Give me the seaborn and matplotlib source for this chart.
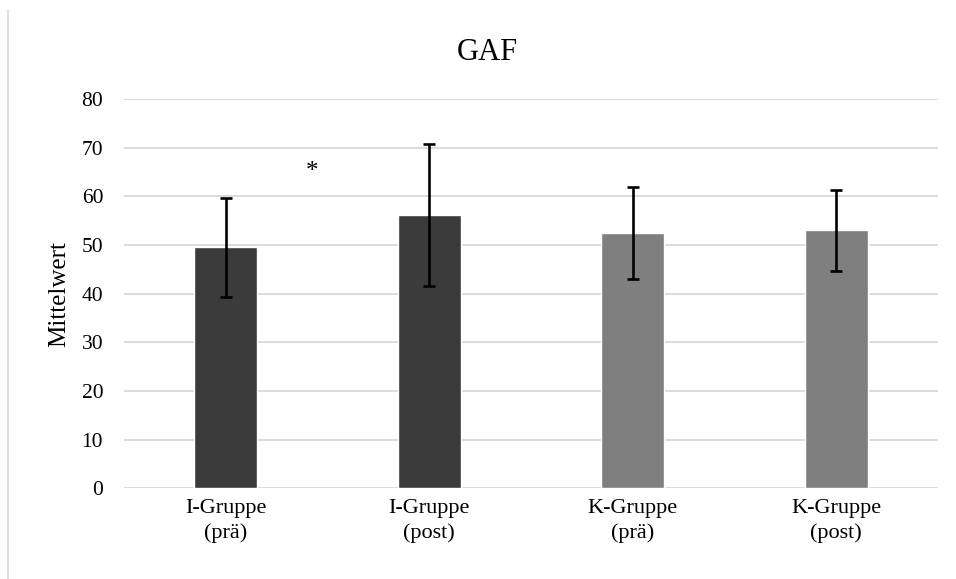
import matplotlib
matplotlib.use("Agg")
import matplotlib.pyplot as plt
import seaborn as sns
import pandas as pd
from matplotlib.lines import Line2D

# values
groups = ["I-Gruppe\n(prä)", "I-Gruppe\n(post)", "K-Gruppe\n(prä)", "K-Gruppe\n(post)"]
means = [49.5, 56.2, 52.5, 53.0]
sds = [10.1, 14.6, 9.4, 8.3]
bar_colors = ["#3b3b3b", "#3b3b3b", "#7f7f7f", "#7f7f7f"]
y_ticks = [0, 10, 20, 30, 40, 50, 60, 70, 80]


def main():
    df = pd.DataFrame({"Gruppe": groups, "Mittelwert": means})

    sns.set_style("white", {"text.color": "black", "axes.labelcolor": "black",
                            "xtick.color": "black", "ytick.color": "black"})
    plt.rcParams["font.family"] = ["Liberation Serif", "DejaVu Serif"]

    fig = plt.figure(figsize=(9.56, 5.79), dpi=100)
    ax = fig.add_axes([0.1297, 0.1566, 0.8513, 0.6724])

    sns.barplot(data=df, x="Gruppe", y="Mittelwert", hue="Gruppe",
                palette=bar_colors, width=0.31, errorbar=None,
                legend=False, ax=ax, zorder=3)
    ax.errorbar(range(len(means)), means, yerr=sds, fmt="none",
                ecolor="black", elinewidth=1.9, capsize=4.5, capthick=1.9,
                zorder=4)

    # significance marker between the I-Gruppe bars
    ax.text(0.425, 65.0, "*", ha="center", va="center", fontsize=18, color="black")

    ax.set_ylim(0, 80)
    ax.set_xlim(-0.5, 3.5)
    ax.set_yticks(y_ticks)
    ax.yaxis.grid(True, color="#d9d9d9", linewidth=1.3, zorder=0)
    ax.set_axisbelow(True)
    sns.despine(ax=ax, left=True, top=True, right=True, bottom=True)
    ax.tick_params(axis="both", length=0, labelcolor="black")
    ax.tick_params(axis="y", labelsize=15.5, pad=15)
    ax.tick_params(axis="x", labelsize=16, pad=8)
    for lbl in ax.get_xticklabels():
        lbl.set_linespacing(1.3)
    ax.set_xlabel("")
    ax.set_ylabel("Mittelwert", fontsize=18, color="black")
    ax.yaxis.set_label_coords(-0.066, 0.5)
    ax.set_title("GAF", fontsize=22, pad=28, x=0.446, color="black")

    # thin frame line on the left edge of the image
    fig.add_artist(Line2D([0.0085, 0.0085], [0.0, 0.983],
                          transform=fig.transFigure, color="#d9d9d9", linewidth=1.2))

    fig.savefig("out.png", dpi=100)
    plt.close(fig)


if __name__ == "__main__":
    main()
